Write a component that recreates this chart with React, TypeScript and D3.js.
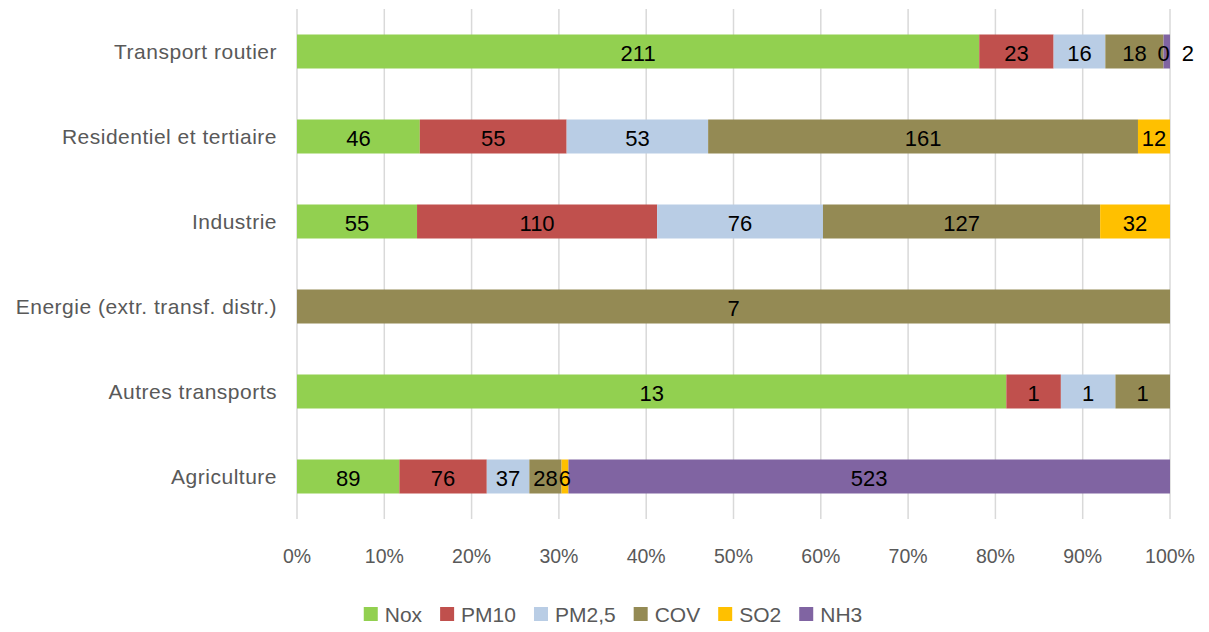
import { useEffect, useRef } from 'react'
import * as d3 from 'd3'

const categories = [
  'Transport routier',
  'Residentiel et tertiaire',
  'Industrie',
  'Energie (extr. transf. distr.)',
  'Autres transports',
  'Agriculture',
]

const seriesNames = ['Nox', 'PM10', 'PM2,5', 'COV', 'SO2', 'NH3']
const seriesColors = ['#92D050', '#C0504D', '#B9CDE5', '#948A54', '#FFC000', '#8064A2']

// values per category, in series order (null = no value)
const nox = [211, 46, 55, null, 13, 89]
const pm10 = [23, 55, 110, null, 1, 76]
const pm25 = [16, 53, 76, null, 1, 37]
const cov = [18, 161, 127, 7, 1, 28]
const so2 = [0, 12, 32, null, null, 6]
const nh3 = [2, null, null, null, null, 523]

const xTicks = [0, 0.1, 0.2, 0.3, 0.4, 0.5, 0.6, 0.7, 0.8, 0.9, 1]

const FONT = '"Liberation Sans", Arial, sans-serif'

export default function App() {
  const svgRef = useRef<SVGSVGElement>(null)

  useEffect(() => {
    if (!svgRef.current) return
    const svg = d3.select(svgRef.current)
    svg.selectAll('*').remove()

    const W = 1209
    const H = 632
    const left = 297, right = 1170, top = 9, bottom = 519

    const series = [nox, pm10, pm25, cov, so2, nh3]

    const x = d3.scaleLinear().domain([0, 1]).range([left, right])
    const y = d3.scaleBand<string>().domain(categories).range([top, bottom])
      .paddingInner(0.6).paddingOuter(0.3)

    // grid
    svg.append('g').selectAll('line').data(xTicks).join('line')
      .attr('x1', d => x(d)).attr('x2', d => x(d))
      .attr('y1', top).attr('y2', bottom)
      .attr('stroke', '#D9D9D9').attr('stroke-width', 1.5)

    // tick labels
    svg.append('g').selectAll('text').data(xTicks).join('text')
      .attr('x', d => x(d)).attr('y', 563)
      .attr('text-anchor', 'middle')
      .attr('font-family', FONT).attr('font-size', 19.5).attr('fill', '#595959')
      .text(d => d3.format('.0%')(d))

    // category labels
    svg.append('g').selectAll('text').data(categories).join('text')
      .attr('x', 277).attr('y', d => (y(d) ?? 0) + y.bandwidth() / 2 + 7)
      .attr('text-anchor', 'end')
      .attr('font-family', FONT).attr('font-size', 21).attr('letter-spacing', 0.5)
      .attr('fill', '#595959')
      .text(d => d)

    const bars = svg.append('g')
    const labels = svg.append('g')

    categories.forEach((cat, ci) => {
      const vals = series.map(s => s[ci])
      const total = d3.sum(vals, v => v ?? 0)
      let acc = 0
      let prevRight = -Infinity
      const by = y(cat) ?? 0
      vals.forEach((v, si) => {
        if (v == null) return
        const x0 = x(acc / total)
        const x1 = x((acc + v) / total)
        acc += v
        bars.append('rect')
          .attr('x', x0).attr('y', by)
          .attr('width', Math.max(0, x1 - x0)).attr('height', y.bandwidth())
          .attr('fill', seriesColors[si])

        const t = labels.append('text')
          .attr('y', by + y.bandwidth() / 2 + 9)
          .attr('text-anchor', 'middle')
          .attr('font-family', FONT).attr('font-size', 22).attr('fill', '#000')
          .text(String(v))
        const tw = (t.node() as SVGTextElement).getComputedTextLength()
        let cx = (x0 + x1) / 2
        // nudge overlapping labels to the right
        if (cx - tw / 2 < prevRight) cx = prevRight + 12 + tw / 2
        t.attr('x', cx)
        prevRight = cx + tw / 2
      })
    })

    // legend
    const legend = svg.append('g')
    const items = seriesNames.map((name, i) => {
      const g = legend.append('g')
      g.append('rect').attr('width', 14).attr('height', 14).attr('y', -8)
        .attr('fill', seriesColors[i])
      const t = g.append('text').attr('x', 21).attr('y', 7)
        .attr('font-family', FONT).attr('font-size', 21).attr('fill', '#595959')
        .text(name)
      const w = 21 + (t.node() as SVGTextElement).getComputedTextLength()
      return { g, w }
    })
    const gap = 18
    const totalW = d3.sum(items, d => d.w) + gap * (items.length - 1)
    let lx = 613 - totalW / 2
    items.forEach(it => {
      it.g.attr('transform', `translate(${lx},615)`)
      lx += it.w + gap
    })

    svg.attr('width', W).attr('height', H)
  }, [])

  return (
    <svg
      ref={svgRef}
      width={1209}
      height={632}
      style={{ position: 'absolute', left: 0, top: 0, background: '#fff' }}
    />
  )
}
